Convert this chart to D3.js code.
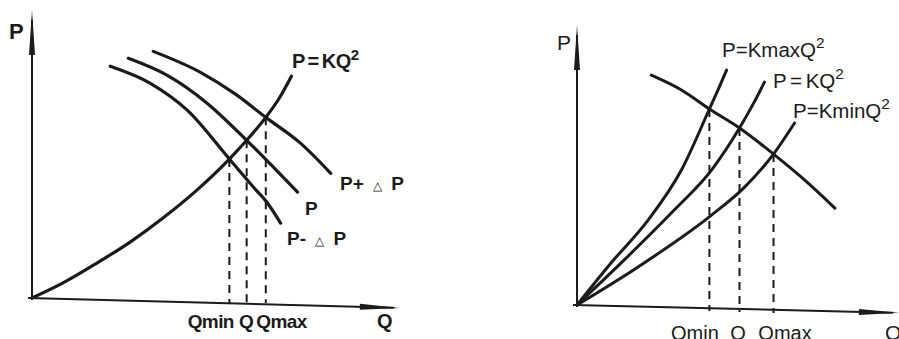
<!DOCTYPE html>
<html>
<head>
<meta charset="utf-8">
<script src="https://cdn.jsdelivr.net/npm/d3@7"></script>
<style>
  body { margin: 0; background: #fff; }
  svg { display: block; }
  text { fill: #1b1b1b; font-family: "Liberation Sans", Arial, sans-serif; }
</style>
</head>
<body>
<svg></svg>
<script>
var width = 899;
var height = 339;
var ink = "#1b1b1b";

// ---- left panel: one pipe curve, three pump curves ----
var leftPipe = [[0, 0], [0.86, 0.54], [1.8, 1.25], [2.72, 2.0], [3.63, 2.86], [4.57, 3.86], [5.47, 4.97],
                [5.95, 5.64], [6.48, 6.46], [6.87, 7.18], [7.19, 7.93]];
var leftPumpLow = [[2.17, 8.29], [3.28, 7.68], [4.31, 6.71], [5.47, 4.97], [6.14, 3.96], [6.53, 3.39], [6.89, 2.68]];
var leftPumpMid = [[2.67, 8.57], [3.75, 7.96], [4.86, 6.96], [5.95, 5.64], [6.69, 4.68], [7.36, 3.79]];
var leftPumpHigh = [[3.36, 8.82], [4.67, 8.07], [5.64, 7.29], [6.48, 6.46], [7.44, 5.54], [8.28, 4.46]];
var leftCross = [[5.47, 4.97], [5.95, 5.64], [6.48, 6.46]];
var leftTicks = ["Qmin", "Q", "Qmax"];

// ---- right panel: three pipe curves, one pump curve ----
var rightKmax = [[0, 0], [1.13, 1.5], [2.37, 3.04], [3.47, 4.82], [4.4, 7.0], [4.73, 7.79], [4.97, 8.39]];
var rightK = [[0, 0], [1.57, 1.61], [3.23, 3.39], [4.47, 4.82], [5.4, 6.32], [5.87, 7.21], [6.23, 7.96]];
var rightKmin = [[0, 0], [2.03, 1.36], [4.47, 3.21], [5.57, 4.21], [6.53, 5.39], [7.23, 6.5]];
var rightPump = [[2.47, 8.21], [3.47, 7.68], [4.4, 7.0], [5.4, 6.32], [6.53, 5.39], [7.57, 4.46], [8.57, 3.46]];
var rightCross = [[4.4, 7.0], [5.4, 6.32], [6.53, 5.39]];
var rightTicks = ["Qmin", "Q", "Qmax"];

var svg = d3.select("svg")
            .attr("width", width)
            .attr("height", height);

// Scales for each panel
var xL = d3.scaleLinear().domain([0, 10.2]).range([32, 400]);
var yL = d3.scaleLinear().domain([0, 10.3]).range([298, 10]);
var xR = d3.scaleLinear().domain([0, 10.7]).range([577, 899]);
var yR = d3.scaleLinear().domain([0, 10]).range([305, 25]);

function drawAxes(x, y, tilt) {
  var x0 = x(0), y0 = y(0);
  var xEnd = x.range()[1], yTop = y.range()[1];
  var g = svg.append("g");

  // vertical axis with long thin arrow
  g.append("line")
    .attr("x1", x0).attr("y1", y0 + 2)
    .attr("x2", x0).attr("y2", yTop + 10)
    .attr("stroke", ink).attr("stroke-width", 2);
  g.append("path")
    .attr("d", "M" + x0 + "," + yTop + " L" + (x0 + 3) + "," + (yTop + 45) + " L" + (x0 - 3) + "," + (yTop + 45) + "Z")
    .attr("fill", ink);

  // horizontal axis, slightly tilted like the scan
  var gx = g.append("g")
    .attr("transform", "rotate(" + tilt + "," + x0 + "," + y0 + ")");
  gx.append("line")
    .attr("x1", x0 - 4).attr("y1", y0)
    .attr("x2", xEnd - 6).attr("y2", y0)
    .attr("stroke", ink).attr("stroke-width", 2);
  gx.append("path")
    .attr("d", "M" + xEnd + "," + y0 + " L" + (xEnd - 40) + "," + (y0 - 3) + " L" + (xEnd - 40) + "," + (y0 + 3) + "Z")
    .attr("fill", ink);
}

function drawCurve(x, y, pts, w) {
  var line = d3.line()
               .x(d => x(d[0]))
               .y(d => y(d[1]))
               .curve(d3.curveMonotoneX);
  svg.append("path")
    .datum(pts)
    .attr("d", line)
    .attr("fill", "none")
    .attr("stroke", ink)
    .attr("stroke-width", w)
    .attr("stroke-linecap", "round");
}

// dashed drops from each crossing down to the Q axis
function drawDrops(x, y, pts, yBottom) {
  svg.selectAll(null)
    .data(pts)
    .enter()
    .append("line")
      .attr("x1", d => x(d[0]))
      .attr("y1", d => y(d[1]))
      .attr("x2", d => x(d[0]))
      .attr("y2", (d, i) => yBottom[i])
      .attr("stroke", ink)
      .attr("stroke-width", 2)
      .attr("stroke-dasharray", "8,6");
}

function drawTicks(x, pts, labels, yPos, anchors, dxs, font) {
  var axis = d3.axisBottom(x)
               .tickValues(pts.map(d => d[0]))
               .tickFormat((d, i) => labels[i])
               .tickSize(0)
               .tickPadding(0);
  var g = svg.append("g")
    .attr("transform", "translate(0," + yPos + ")")
    .call(axis);
  g.select(".domain").remove();
  g.selectAll("text")
    .attr("dy", 0)
    .attr("y", 0)
    .attr("text-anchor", (d, i) => anchors[i])
    .attr("dx", (d, i) => dxs[i])
    .attr("fill", ink)
    .style("font-family", "'Liberation Sans', Arial, sans-serif")
    .style("font-size", font.size)
    .style("font-weight", font.weight)
    .style("letter-spacing", font.spacing);
}

// text with an optional superscript "2"
function label(x, y, main, sup, size, weight, spacing, wordSpacing) {
  var t = svg.append("text")
    .attr("x", x).attr("y", y)
    .style("font-size", size + "px")
    .style("font-weight", weight)
    .style("letter-spacing", spacing || "0px")
    .style("word-spacing", wordSpacing || "0px");
  t.append("tspan").text(main);
  if (sup) {
    t.append("tspan")
      .attr("dy", -size * 0.42)
      .style("font-size", (size * 0.75) + "px")
      .text(sup);
  }
  return t;
}

// P ± small triangle P
function deltaLabel(x, y, sign) {
  var t = svg.append("text")
    .attr("x", x).attr("y", y)
    .style("font-size", "19px")
    .style("font-weight", "bold")
    .style("word-spacing", "4px");
  t.append("tspan").text("P" + sign + " ");
  t.append("tspan").style("font-size", "12px").style("font-weight", "normal").text("△");
  t.append("tspan").text(" P");
}

// ===== Left panel =====
drawAxes(xL, yL, 1.55);
drawCurve(xL, yL, leftPipe, 3.2);
drawCurve(xL, yL, leftPumpLow, 3.2);
drawCurve(xL, yL, leftPumpMid, 3.2);
drawCurve(xL, yL, leftPumpHigh, 3.2);
drawDrops(xL, yL, leftCross, [303, 303, 303]);
drawTicks(xL, leftCross, leftTicks, 328, ["end", "middle", "start"], [4, -1, -10],
          {size: "19px", weight: "bold", spacing: "-0.6px"});

label(9, 39, "P", null, 22, "bold");
label(377, 328, "Q", null, 20, "bold");
label(292, 68, "P = KQ", "2", 20, "bold", "-0.5px", "-2px");
deltaLabel(340, 190, "+");
label(305, 215, "P", null, 19, "bold");
deltaLabel(287, 245, "-");

// ===== Right panel =====
drawAxes(xR, yR, 1.4);
drawCurve(xR, yR, rightKmax, 3);
drawCurve(xR, yR, rightK, 3);
drawCurve(xR, yR, rightKmin, 3);
drawCurve(xR, yR, rightPump, 3);
drawDrops(xR, yR, rightCross, [311, 312, 313]);
drawTicks(xR, rightCross, rightTicks, 340, ["middle", "middle", "middle"], [-15, -2, 11],
          {size: "20px", weight: "normal", spacing: "0px"});

label(557, 50, "P", null, 21, "normal");
label(885, 340, "Q", null, 21, "normal");
label(722, 57, "P=KmaxQ", "2", 20.5, "normal");
label(773, 88, "P = KQ", "2", 20.5, "normal", "0px", "-2px");
label(793, 118, "P=KminQ", "2", 20.5, "normal");
</script>
</body>
</html>
